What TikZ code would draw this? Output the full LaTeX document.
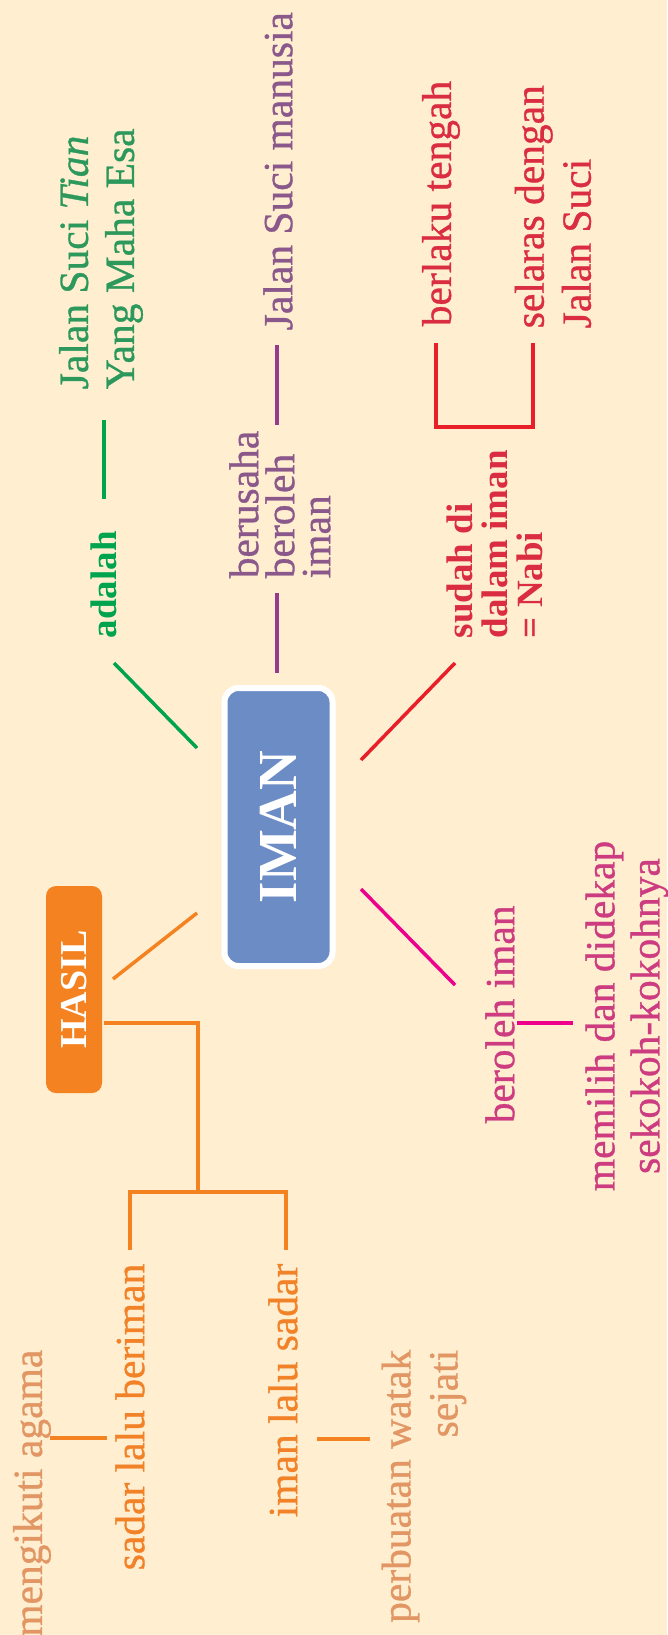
\documentclass[tikz,border=0pt]{standalone}
\usepackage{fontspec}
\setmainfont{Liberation Serif}
\newfontfamily\labelfam{Liberation Serif}[FakeBold=0.8]
\usetikzlibrary{positioning}
\definecolor{cream}{RGB}{255,238,208}
\definecolor{imanblue}{RGB}{108,140,198}
\definecolor{hasilorange}{RGB}{245,130,32}
\definecolor{lgreen}{RGB}{0,163,78}
\definecolor{tgreen}{RGB}{45,152,92}
\definecolor{lpurple}{RGB}{150,60,140}
\definecolor{tpurple}{RGB}{138,88,138}
\definecolor{lred}{RGB}{232,30,40}
\definecolor{tred}{RGB}{218,45,65}
\definecolor{lpink}{RGB}{236,0,140}
\definecolor{tpink}{RGB}{205,60,128}
\definecolor{torange}{RGB}{242,130,40}
\definecolor{paleorange}{RGB}{225,150,100}
\newcommand*{\regfont}{\labelfam\fontsize{41.5}{46}\selectfont}
\newcommand*{\boldfont}{\fontsize{37}{35}\selectfont\bfseries}

\begin{document}
\begin{tikzpicture}[x=1pt, y=-1pt, line width=3.5pt,
  lbl/.style={rotate=90, inner sep=0pt, font=\regfont},
  boldlbl/.style={lbl, font=\boldfont},
  box/.style={rotate=90, inner sep=0pt, text=white}]
\useasboundingbox (0,0) rectangle (667,1635);
\fill[cream] (0,0) rectangle (667,1635);
\node[box, fill=imanblue, draw=white, line width=6pt, rounded corners=14pt, minimum width=278pt, minimum height=108pt, font=\fontsize{55}{55}\selectfont\bfseries] (iman) at (278.5,827) {IMAN};
\node[box, fill=hasilorange, rounded corners=10pt, minimum width=207pt, minimum height=56pt, font=\fontsize{38}{38}\selectfont\bfseries] (hasil) at (74,989.5) {HASIL};
\node[boldlbl, text=lgreen, anchor=west] (adalah) at (104,640) {adalah};
\node[lbl, text=tgreen, anchor=west, align=left] (tian) at (101,391) {Jalan Suci \textit{Tian}\\Yang Maha Esa};
\node[lbl, text=tpurple, anchor=west, align=left, font=\labelfam\fontsize{41.5}{36}\selectfont] (berusaha) at (280,580) {berusaha\\beroleh\\iman};
\node[lbl, text=tpurple, anchor=west] (manusia) at (278,332) {Jalan Suci manusia};
\node[boldlbl, text=tred, anchor=west, align=left] (nabi) at (495,640) {sudah di\\dalam iman\\= Nabi};
\node[lbl, text=tred, anchor=west] (tengah) at (441,328) {berlaku tengah};
\node[lbl, text=tred, anchor=west, align=left, font=\labelfam\fontsize{41.5}{47}\selectfont] (selaras) at (553,330) {selaras dengan\\Jalan Suci};
\node[lbl, text=tpink, anchor=west] (beroleh) at (500,1125) {beroleh iman};
\node[lbl, text=tpink, align=center, font=\labelfam\fontsize{41.5}{45}\selectfont] (memilih) at (627,1016) {memilih dan didekap\\sekokoh-kokohnya};
\node[lbl, text=torange, anchor=east] (sadar) at (130,1262) {sadar lalu beriman};
\node[lbl, text=torange, anchor=east] (imansadar) at (283,1262) {iman lalu sadar};
\node[lbl, text=paleorange, anchor=east] (agama) at (32,1348) {mengikuti agama};
\node[lbl, text=paleorange, anchor=east, align=right, font=\labelfam\fontsize{41.5}{47}\selectfont] (watak) at (424,1348) {perbuatan watak\\sejati};
\coordinate (g1) at (197,748); \coordinate (g2) at (114,663);
\coordinate (g3) at (104,499); \coordinate (g4) at (104,420);
\coordinate (p1) at (277,673); \coordinate (p2) at (277,593);
\coordinate (p3) at (277,425); \coordinate (p4) at (277,345);
\coordinate (r1) at (361,760); \coordinate (r2) at (455,663);
\coordinate (r3) at (436,343); \coordinate (r4) at (436,427);
\coordinate (r5) at (533,427); \coordinate (r6) at (533,343);
\coordinate (k1) at (361,889); \coordinate (k2) at (455,985);
\coordinate (k3) at (517,1023); \coordinate (k4) at (573,1023);
\coordinate (o1) at (197,913); \coordinate (o2) at (113,979);
\coordinate (o3) at (198,1023); \coordinate (o4) at (198,1192);
\coordinate (o5) at (130,1192); \coordinate (o6) at (130,1250);
\coordinate (o7) at (286,1192); \coordinate (o8) at (286,1250);
\coordinate (o9) at (50,1438); \coordinate (o10) at (107,1438);
\coordinate (o11) at (317,1439); \coordinate (o12) at (370,1439);
\draw[lgreen] (g1) -- (g2);
\draw[lgreen] (g3) -- (g4);
\draw[lpurple] (p1) -- (p2);
\draw[lpurple] (p3) -- (p4);
\draw[lred] (r1) -- (r2);
\draw[lred, line width=4pt] (r3) -- (r4) -- (r5) -- (r6);
\draw[lpink] (k1) -- (k2);
\draw[lpink] (k3) -- (k4);
\draw[hasilorange] (o1) -- (o2);
\draw[hasilorange] (hasil.south |- o3) -- (o3) -- (o4);
\draw[hasilorange] (o6) -- (o5) -- (o7) -- (o8);
\draw[hasilorange] (o9) -- (o10);
\draw[hasilorange] (o11) -- (o12);
\end{tikzpicture}
\end{document}
